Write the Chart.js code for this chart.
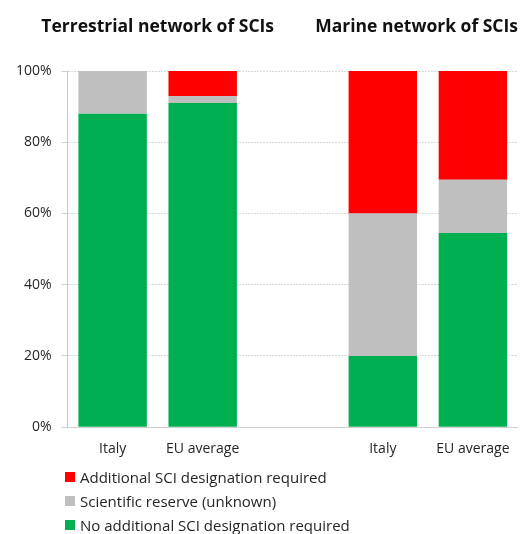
<!DOCTYPE html>
<html>
<head>
<meta charset="utf-8">
<script src="https://cdn.jsdelivr.net/npm/chart.js@4"></script>
<style>
  html, body { margin: 0; padding: 0; background: #ffffff; overflow: hidden; }
  #wrap { position: relative; width: 523px; height: 534px; }
  #c { position: absolute; left: 0; top: 0; }
  #legend { position: absolute; left: 65px; top: 465px; font-family: "Open Sans", Lato, sans-serif; font-size: 15px; color: #262626; }
  #legend .row { height: 24px; display: flex; align-items: center; white-space: nowrap; }
  #legend .box { width: 10px; height: 10px; margin-right: 5px; flex: none; }
</style>
</head>
<body>
<div id="wrap">
  <canvas id="c" width="523" height="474"></canvas>
  <div id="legend"></div>
</div>
<script>
const categories = ['Italy', 'EU average', '', 'Italy', 'EU average'];
const noAdditional = [88, 91, null, 20, 54.5];
const scientificReserve = [12, 2, null, 40, 15];
const additionalRequired = [0, 7, null, 40, 30.5];
const seriesLabels = ['No additional SCI designation required', 'Scientific reserve (unknown)', 'Additional SCI designation required'];
const seriesColors = ['#00B050', '#BFBFBF', '#FF0000'];
const yTicks = [0, 20, 40, 60, 80, 100];
const groupTitles = ['Terrestrial network of SCIs', 'Marine network of SCIs'];
const groupIndexes = [[0, 1], [3, 4]];

const FONT = '"Open Sans", Lato, sans-serif';

const groupTitlePlugin = {
  id: 'groupTitles',
  afterDraw(chart) {
    const ctx = chart.ctx;
    const x = chart.scales.x;
    ctx.save();
    ctx.font = 'bold 17.5px ' + FONT;
    ctx.fillStyle = '#111111';
    ctx.textBaseline = 'alphabetic';
    ctx.textAlign = 'left';
    groupTitles.forEach((t, i) => {
      const [a, b] = groupIndexes[i];
      const cx = (x.getPixelForValue(a) + x.getPixelForValue(b)) / 2;
      const w = ctx.measureText(t).width;
      let left = cx - w / 2;
      if (left + w > chart.width - 5) left = chart.width - 5 - w;
      ctx.fillText(t, left, 32);
    });
    ctx.restore();
  }
};

const datasets = [noAdditional, scientificReserve, additionalRequired].map((d, i) => ({
  label: seriesLabels[i],
  data: d,
  backgroundColor: seriesColors[i],
  borderWidth: 0,
  categoryPercentage: 1,
  barPercentage: 0.76
}));

const chart = new Chart(document.getElementById('c'), {
  type: 'bar',
  data: { labels: categories, datasets },
  options: {
    responsive: false,
    animation: false,
    layout: { padding: { top: 71, left: 6, right: 5, bottom: 4 } },
    plugins: {
      legend: { display: false },
      tooltip: { enabled: false }
    },
    scales: {
      x: {
        stacked: true,
        grid: { display: false, drawTicks: false },
        border: { display: true, color: '#D0D0D0', width: 1 },
        ticks: { padding: 13, color: '#262626', font: { family: FONT, size: 14 } }
      },
      y: {
        stacked: true,
        min: 0,
        max: 100,
        afterBuildTicks(scale) { scale.ticks = yTicks.map(v => ({ value: v })); },
        grid: { color: '#D9D9D9', tickLength: 6, tickColor: '#D0D0D0', drawTicks: true, tickBorderDash: [] },
        border: { display: true, color: '#C8C8C8', width: 1, dash: [2, 1] },
        ticks: { padding: 10, color: '#262626', font: { family: FONT, size: 14 }, callback: v => v + '%' }
      }
    }
  },
  plugins: [groupTitlePlugin]
});

// HTML legend built from chart datasets (reverse order, as in the reference)
const legendEl = document.getElementById('legend');
chart.data.datasets.slice().reverse().forEach(ds => {
  const row = document.createElement('div');
  row.className = 'row';
  const box = document.createElement('span');
  box.className = 'box';
  box.style.background = ds.backgroundColor;
  const txt = document.createElement('span');
  txt.textContent = ds.label;
  row.appendChild(box);
  row.appendChild(txt);
  legendEl.appendChild(row);
});
</script>
</body>
</html>
